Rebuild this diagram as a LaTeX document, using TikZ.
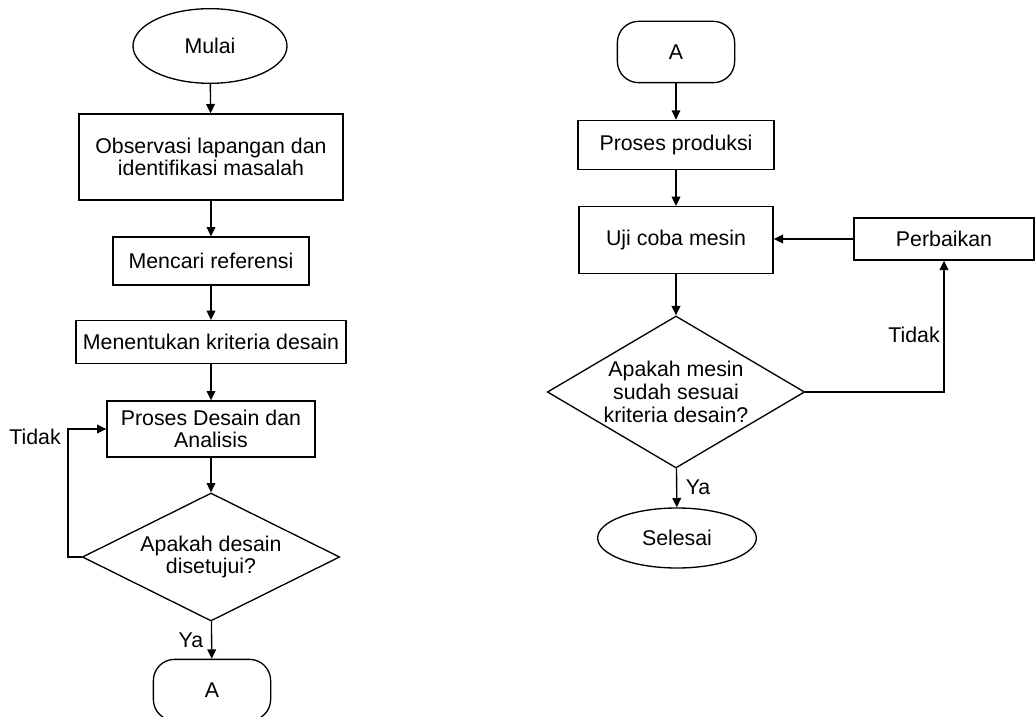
\documentclass[tikz,border=0pt]{standalone}
\usepackage{fontspec}
\setmainfont{Liberation Sans}
\usetikzlibrary{shapes.geometric,arrows.meta}
\tikzset{
  base/.style={draw,line width=1pt,inner sep=2pt,align=center,font=\fontsize{16}{17}\selectfont},
  terminal/.style={base,ellipse,inner sep=0pt},
  process/.style={base,rectangle},
  connector/.style={base,rectangle,rounded corners=16pt,minimum width=88pt,minimum height=46pt},
  decision/.style={base,diamond,inner sep=0pt,aspect=1.7},
  flow/.style={line width=1pt,-{Triangle[length=7pt,width=6.5pt]}},
  lbl/.style={font=\fontsize{16}{17}\selectfont,inner sep=1pt}
}
\begin{document}
\begin{tikzpicture}[x=0.75pt,y=-0.75pt]
  \useasboundingbox (0,0) rectangle (1035,717);
  % left column
  \node[terminal,minimum width=115.5pt,minimum height=56pt] (mulai) at (210,46) {Mulai};
  \node[process,minimum width=198pt,minimum height=64.5pt] (observasi) at (211,157) {Observasi lapangan dan\\identifikasi masalah};
  \node[process,minimum width=147pt,minimum height=36pt] (referensi) at (211,261) {Mencari referensi};
  \node[process,minimum width=202.5pt,minimum height=32pt] (kriteria) at (211,342) {Menentukan kriteria desain};
  \node[process,minimum width=156pt,minimum height=42pt] (desain) at (211,429) {Proses Desain dan\\Analisis};
  \node[decision,minimum width=193pt,minimum height=96pt] (cekdesain) at (211,557) {Apakah desain\\disetujui?};
  \node[connector] (keA) at (212,690) {A};
  \coordinate (balik) at (68,557);
  \node[lbl] (tidakA) at (35,437) {Tidak};
  \node[lbl] (yaA) at (191,640) {Ya};
  \draw[flow] (mulai) -- (observasi);
  \draw[flow] (observasi) -- (referensi);
  \draw[flow] (referensi) -- (kriteria);
  \draw[flow] (kriteria) -- (desain);
  \draw[flow] (desain) -- (cekdesain);
  \draw[flow] (cekdesain) -- (keA);
  \draw[flow] (cekdesain.west) -- (balik) |- (desain.west);
  % right column
  \node[connector] (dariA) at (676,52) {A};
  \node[process,minimum width=147pt,minimum height=37pt] (produksi) at (676,145) {Proses produksi};
  \node[process,minimum width=145.5pt,minimum height=50pt] (ujicoba) at (676,240) {Uji coba mesin};
  \node[process,minimum width=135pt,minimum height=31.5pt] (perbaikan) at (944,239) {Perbaikan};
  \node[decision,minimum width=193pt,minimum height=114pt] (cekmesin) at (676,392) {Apakah mesin\\sudah sesuai\\kriteria desain?};
  \node[terminal,minimum width=119pt,minimum height=45pt] (selesai) at (677,538) {Selesai};
  \node[lbl] (tidakB) at (914,335) {Tidak};
  \node[lbl] (yaB) at (698,487) {Ya};
  \draw[flow] (dariA) -- (produksi);
  \draw[flow] (produksi) -- (ujicoba);
  \draw[flow] (ujicoba) -- (cekmesin);
  \draw[flow] (cekmesin) -- (selesai);
  \draw[flow] (cekmesin.east) -| (perbaikan.south);
  \draw[flow] (perbaikan.west) -- (ujicoba.east |- perbaikan.west);
\end{tikzpicture}
\end{document}
